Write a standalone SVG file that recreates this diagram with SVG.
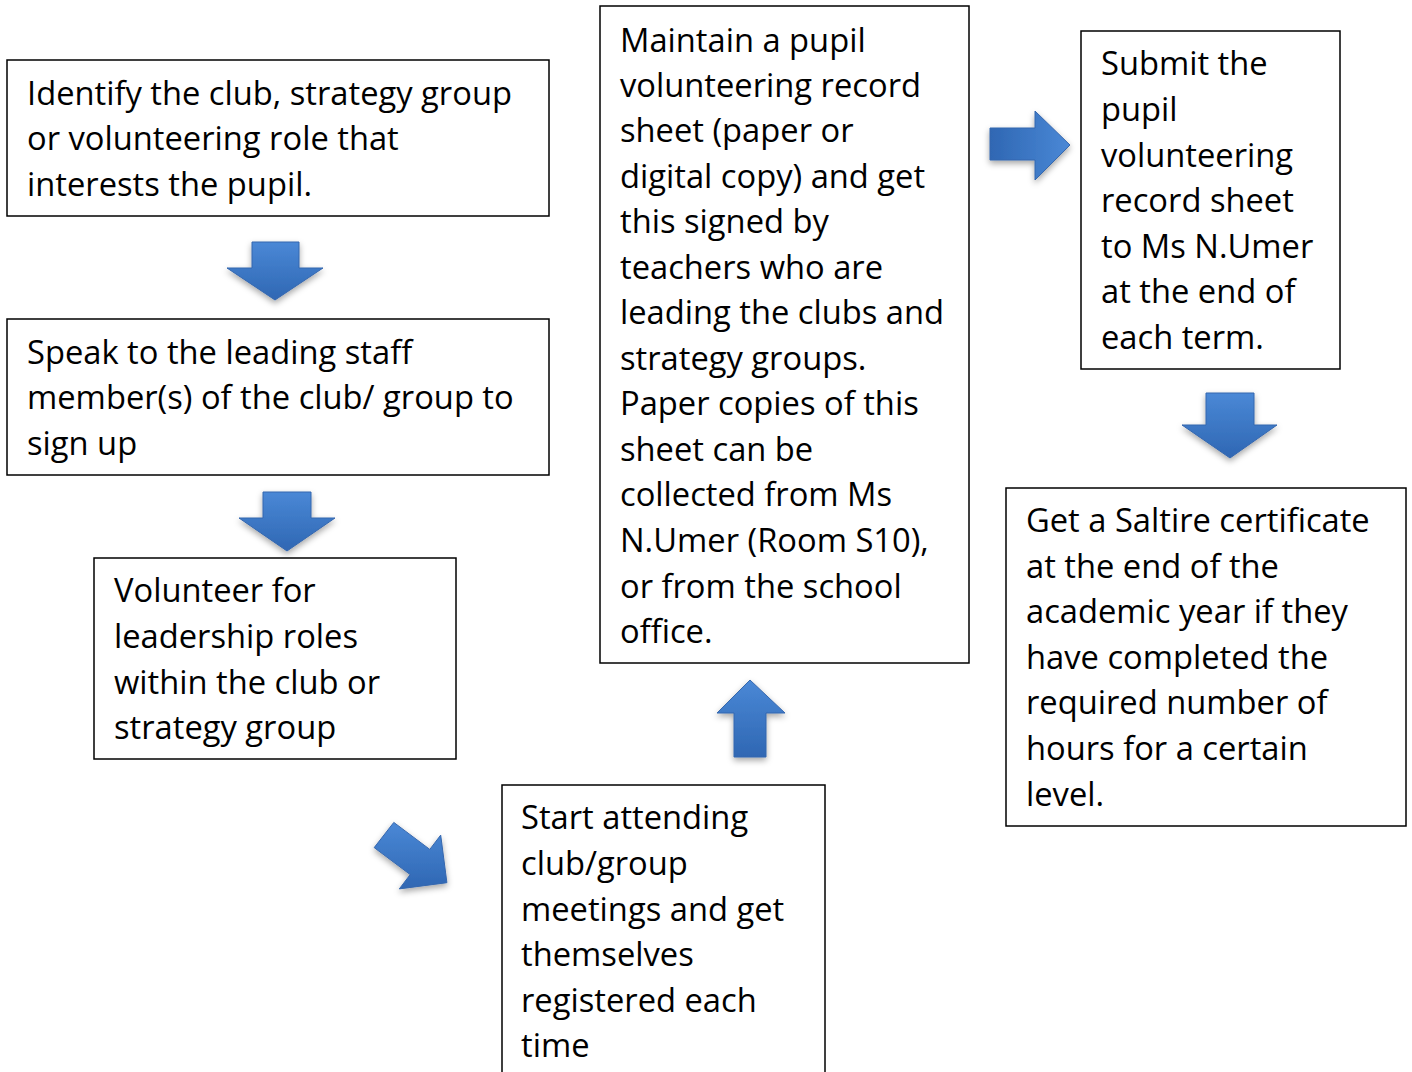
<svg xmlns="http://www.w3.org/2000/svg" width="1412" height="1072" viewBox="0 0 1412 1072">
<style>
.box{fill:#fff;stroke:#000;stroke-width:1.5}
.t{font-family:"Open Sans","DejaVu Sans",sans-serif;font-size:32.7px;fill:#000}
.arr{stroke:#3567ae;stroke-width:1}
</style>
<defs>
<linearGradient id="gv" x1="0" y1="0" x2="0" y2="1"><stop offset="0" stop-color="#4a88d6"/><stop offset="1" stop-color="#2f67b3"/></linearGradient>
<linearGradient id="gh" x1="0" y1="0" x2="1" y2="0"><stop offset="0" stop-color="#2f67b3"/><stop offset="1" stop-color="#4a88d6"/></linearGradient>
<filter id="sh" x="-30%" y="-30%" width="160%" height="160%"><feDropShadow dx="0" dy="3" stdDeviation="3" flood-color="#000" flood-opacity="0.35"/></filter>
</defs>
<rect width="1412" height="1072" fill="#fff"/>
<g id="connectors">
<polygon class="arr" fill="url(#gv)" filter="url(#sh)" points="252,242 299,242 299,268 323,268 275,300 227,268 252,268"/>
<polygon class="arr" fill="url(#gv)" filter="url(#sh)" points="263,492 311,492 311,518 335,518 287,551 239,518 263,518"/>
<polygon class="arr" fill="url(#gv)" filter="url(#sh)" points="1206,393 1254,393 1254,425 1277,425 1230,458 1182,425 1206,425"/>
<polygon class="arr" fill="url(#gv)" filter="url(#sh)" points="750,680 785,713 766,713 766,757 734,757 734,713 717,713"/>
<polygon class="arr" fill="url(#gh)" filter="url(#sh)" points="990,128 1035,128 1035,111 1070,145 1035,180 1035,160 990,160"/>
<polygon class="arr" fill="url(#gv)" filter="url(#sh)" points="393.8,822.4 429.8,849.4 440.7,835.1 446.9,882.7 399.3,888.9 410.2,874.6 374.2,847.6"/>
</g>
<g id="n1"><rect class="box" x="7" y="60" width="542" height="156"/>
<text class="t"><tspan x="27" y="105">Identify the club, strategy group</tspan><tspan x="27" y="150">or volunteering role that</tspan><tspan x="27" y="196">interests the pupil.</tspan></text></g>
<g id="n2"><rect class="box" x="7" y="319" width="542" height="156"/>
<text class="t"><tspan x="27" y="364">Speak to the leading staff</tspan><tspan x="27" y="409">member(s) of the club/ group to</tspan><tspan x="27" y="455">sign up</tspan></text></g>
<g id="n3"><rect class="box" x="94" y="558" width="362" height="201"/>
<text class="t"><tspan x="114" y="602">Volunteer for</tspan><tspan x="114" y="648">leadership roles</tspan><tspan x="114" y="694">within the club or</tspan><tspan x="114" y="739">strategy group</tspan></text></g>
<g id="n4"><rect class="box" x="600" y="6" width="369" height="657"/>
<text class="t"><tspan x="620" y="52">Maintain a pupil</tspan><tspan x="620" y="97">volunteering record</tspan><tspan x="620" y="142">sheet (paper or</tspan><tspan x="620" y="188">digital copy) and get</tspan><tspan x="620" y="233">this signed by</tspan><tspan x="620" y="279">teachers who are</tspan><tspan x="620" y="324">leading the clubs and</tspan><tspan x="620" y="370">strategy groups.</tspan><tspan x="620" y="415">Paper copies of this</tspan><tspan x="620" y="461">sheet can be</tspan><tspan x="620" y="506">collected from Ms</tspan><tspan x="620" y="552">N.Umer (Room S10),</tspan><tspan x="620" y="598">or from the school</tspan><tspan x="620" y="643">office.</tspan></text></g>
<g id="n5"><rect class="box" x="502" y="785" width="323" height="300"/>
<text class="t"><tspan x="521" y="829">Start attending</tspan><tspan x="521" y="875">club/group</tspan><tspan x="521" y="921">meetings and get</tspan><tspan x="521" y="966">themselves</tspan><tspan x="521" y="1012">registered each</tspan><tspan x="521" y="1057">time</tspan></text></g>
<g id="n6"><rect class="box" x="1081" y="31" width="259" height="338"/>
<text class="t"><tspan x="1101" y="75">Submit the</tspan><tspan x="1101" y="121">pupil</tspan><tspan x="1101" y="167">volunteering</tspan><tspan x="1101" y="212">record sheet</tspan><tspan x="1101" y="258">to Ms N.Umer</tspan><tspan x="1101" y="303">at the end of</tspan><tspan x="1101" y="349">each term.</tspan></text></g>
<g id="n7"><rect class="box" x="1006" y="488" width="400" height="338"/>
<text class="t"><tspan x="1026" y="532">Get a Saltire certificate</tspan><tspan x="1026" y="578">at the end of the</tspan><tspan x="1026" y="623">academic year if they</tspan><tspan x="1026" y="669">have completed the</tspan><tspan x="1026" y="714">required number of</tspan><tspan x="1026" y="760">hours for a certain</tspan><tspan x="1026" y="806">level.</tspan></text></g>
</svg>
